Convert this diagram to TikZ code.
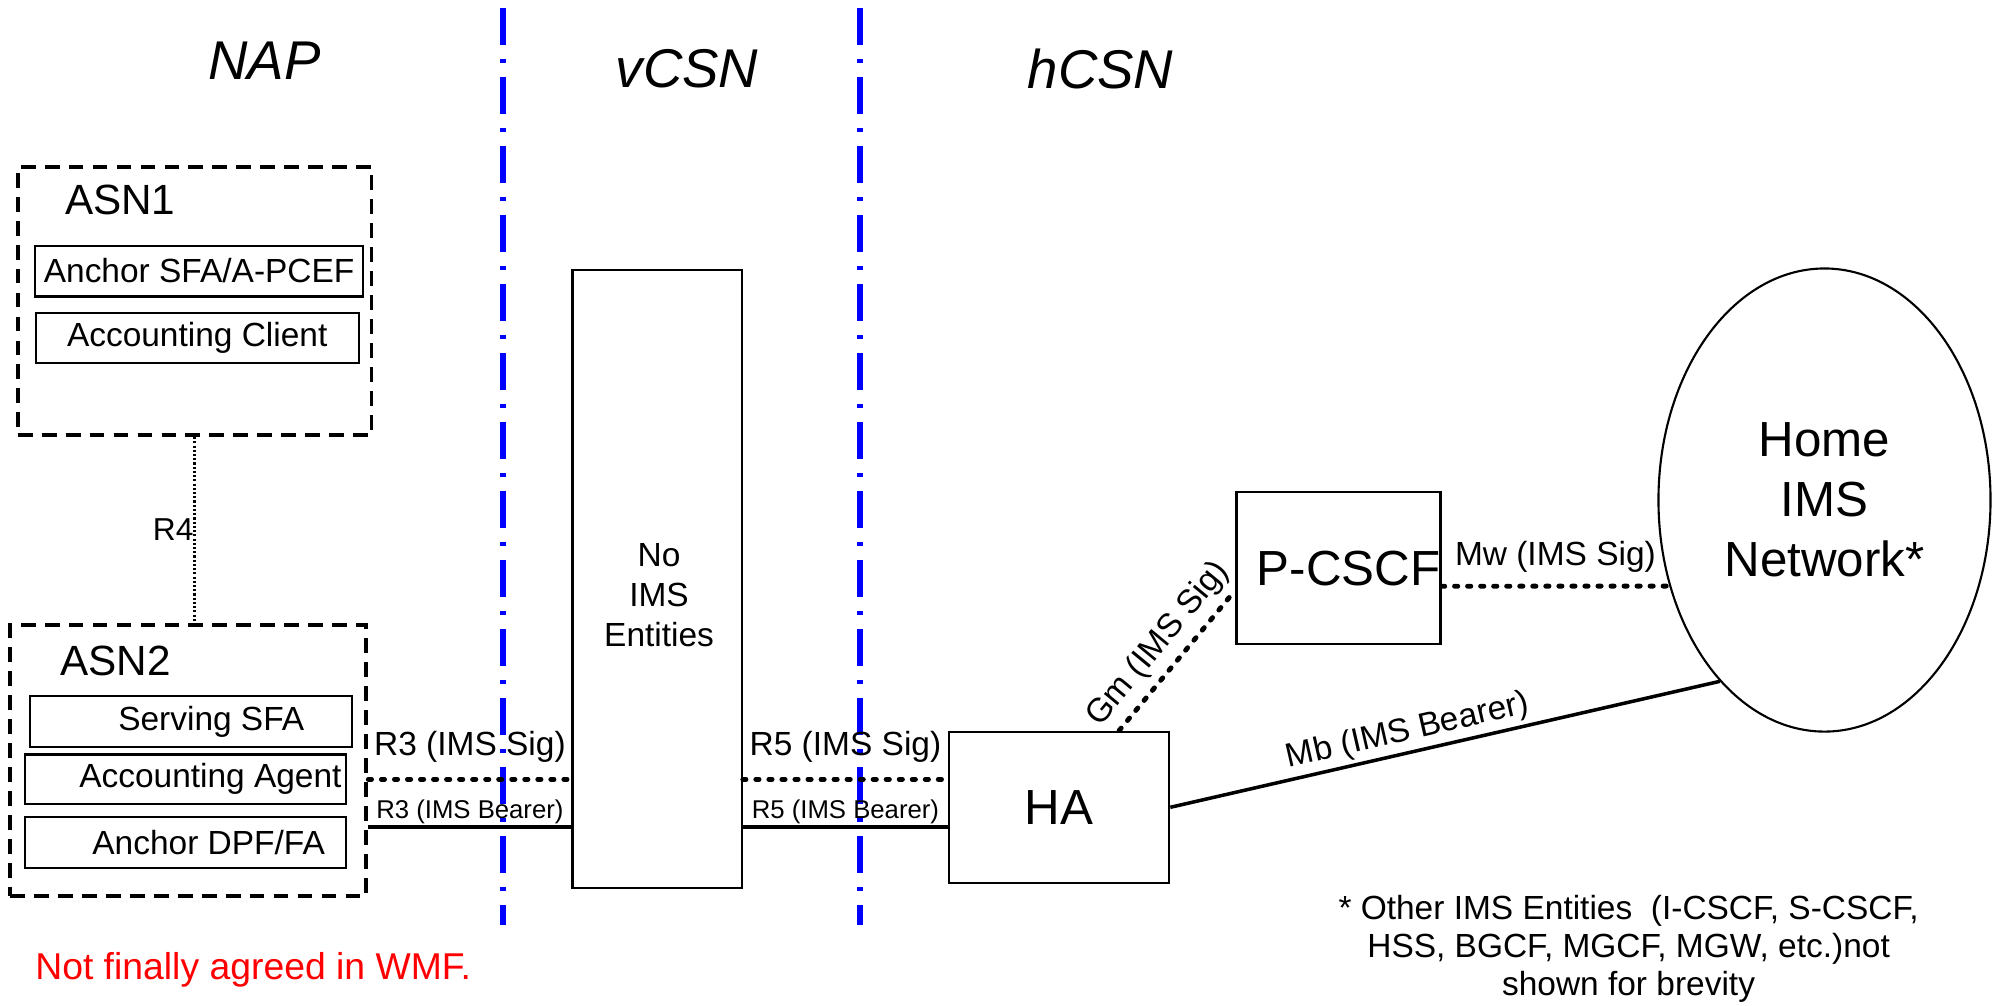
\documentclass[tikz,border=0pt]{standalone}
\usepackage{fontspec}
\setmainfont{Liberation Sans}
\usetikzlibrary{shapes.geometric}
\newcommand\un{0.0127cm}
\tikzset{
	elem/.style 2 args={draw, line width=0.6pt, inner sep=0pt, minimum width=#1*\un, minimum height=#2*\un, font=\fontsize{9.5}{11.4}\selectfont},
	asn/.style 2 args={draw, line width=1.1pt, dash pattern=on 4.2pt off 2.6pt, inner sep=0pt, minimum width=#1*\un, minimum height=#2*\un},
	indent/.style={execute at begin node=\hspace*{#1}},
	border/.style={blue, line width=1.7pt, dash pattern=on 10.5pt off 4pt on 1.1pt off 4pt},
	sig/.style={line width=1.4pt, line cap=round, dash pattern=on 0.9pt off 2.8pt},
	bearer/.style={line width=1pt},
	lbl/.style={font=\fontsize{9.5}{11.4}\selectfont, inner sep=1pt},
	smalllbl/.style={font=\fontsize{7.3}{8.8}\selectfont, inner sep=0.5pt},
	region/.style={font=\fontsize{15.5}{18}\selectfont\itshape},
	asnname/.style={font=\fontsize{12}{14}\selectfont},
	big/.style={font=\fontsize{14}{17}\selectfont}
}
\begin{document}
\begin{tikzpicture}[x=\un, y=-\un]
		\useasboundingbox (0,0) rectangle (1568,790);
		\draw[border] (395,6) -- (395,727);
		\draw[border] (676,6) -- (676,727);

		\node[region] (nap) at (208,48) {NAP};
		\node[region] (vcsn) at (540,54) {vCSN};
		\node[region] (hcsn) at (865,54) {hCSN};

		\node[asn={278}{211}] (asnone) at (153,236.5) {};
		\node[asnname] (asnonelbl) at (94.5,157) {ASN1};
		\node[elem={258}{40}] (anchorsfa) at (156.5,213) {Anchor SFA/A-PCEF};
		\node[elem={254}{39}] (client) at (155,265.5) {Accounting Client};

		\node[asn={280}{213}] (asntwo) at (148,597.5) {};
		\node[asnname] (asntwolbl) at (91,519.5) {ASN2};
		\node[elem={253}{40}, indent=11.6pt] (serving) at (150,567) {Serving SFA};
		\node[elem={252.5}{39}, indent=14pt] (agent) at (146,612.5) {Accounting Agent};
		\node[elem={252.5}{40}, indent=13pt] (dpf) at (146,662) {Anchor DPF/FA};

		\node[elem={133}{486}] (noims) at (516.5,455) {};
		\node[align=center, font=\fontsize{9.5}{11.4}\selectfont] (noimslbl) at (518,468) {No\\IMS\\Entities};

		\node[elem={173}{119}, big] (ha) at (832.5,634.5) {HA};
		\node[elem={158}{119}, big, indent=5.8pt] (pcscf) at (1052,446.5) {P-CSCF};
		\node[draw, ellipse, line width=0.6pt, inner sep=0pt, minimum width=261*\un, minimum height=364*\un, align=center, big] (home) at (1434,393) {Home\\IMS\\Network*};

		\draw[line width=0.7pt, dash pattern=on 0.6pt off 0.6pt] (asnone.south) -- node[left, inner sep=0pt, font=\fontsize{9}{11}\selectfont] (rfour) {R4} (asnone.south |- asntwo.north);

		\draw[sig] (asntwo.east |- agent) -- node[above=3pt, lbl] (rthreesig) {R3 (IMS Sig)} (noims.west |- agent);
		\draw[bearer] (asntwo.east |- 0,650) -- node[above, smalllbl] (rthreebearer) {R3 (IMS Bearer)} (noims.west |- 0,650);
		\draw[sig] (noims.east |- agent) -- node[above=3pt, lbl] (rfivesig) {R5 (IMS Sig)} (ha.west |- agent);
		\draw[bearer] (noims.east |- 0,650) -- node[above, smalllbl] (rfivebearer) {R5 (IMS Bearer)} (ha.west |- 0,650);

		\draw[sig] (ha.52) -- node[above=1pt, sloped, lbl] (gm) {Gm (IMS Sig)} (pcscf.192);
		\draw[sig] (pcscf.-10) -- node[above=2.2pt, lbl] (mw) {Mw (IMS Sig)} (home.209);
		\draw[bearer] (ha.east) -- node[pos=0.44, above, sloped, lbl] (mb) {Mb (IMS Bearer)} (home.240);

		\node[align=center, font=\fontsize{9.5}{10.8}\selectfont] (note) at (1280,746) {* Other IMS Entities\ \ (I-CSCF, S-CSCF,\\HSS, BGCF, MGCF, MGW, etc.)not\\shown for brevity};
		\node[text=red, font=\fontsize{10.6}{12.7}\selectfont] (draft) at (199,762) {Not finally agreed in WMF.};
\end{tikzpicture}
\end{document}
